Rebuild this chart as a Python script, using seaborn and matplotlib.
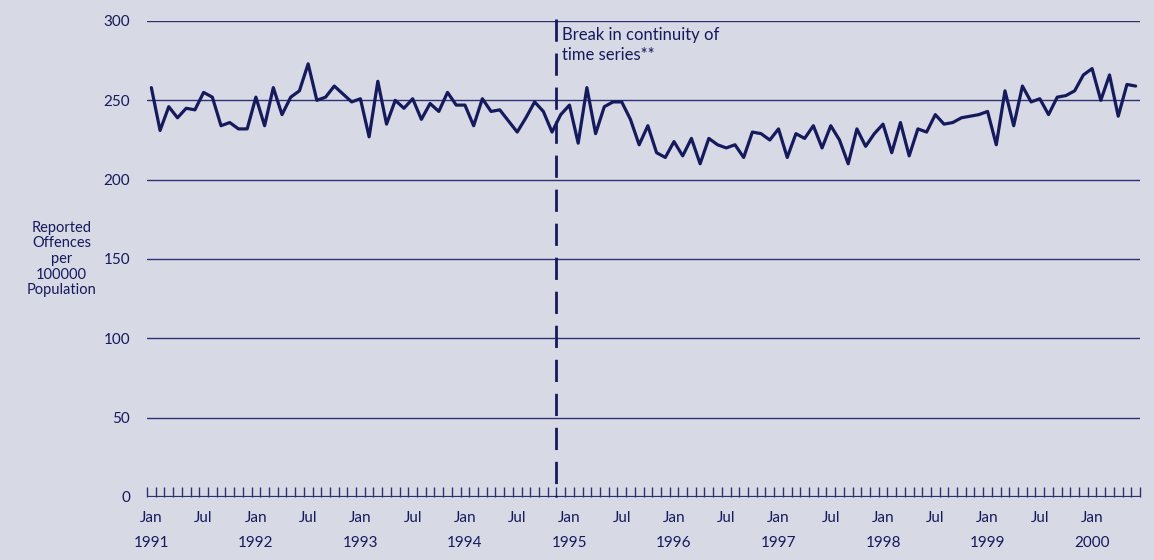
import numpy as np
import pandas as pd
import matplotlib
matplotlib.use("Agg")
import matplotlib.pyplot as plt
import seaborn as sns

# Monthly reported offences per 100000 population, Jan 1991 - Jun 2000
start_year = 1991
offences = [
    258, 231, 246, 239, 245, 244, 255, 252, 234, 236, 232, 232,   # 1991
    252, 234, 258, 241, 252, 256, 273, 250, 252, 259, 254, 249,   # 1992
    251, 227, 262, 235, 250, 245, 251, 238, 248, 243, 255, 247,   # 1993
    247, 234, 251, 243, 244, 237, 230, 239, 249, 243, 230, 241,   # 1994
    247, 223, 258, 229, 246, 249, 249, 238, 222, 234, 217, 214,   # 1995
    224, 215, 226, 210, 226, 222, 220, 222, 214, 230, 229, 225,   # 1996
    232, 214, 229, 226, 234, 220, 234, 225, 210, 232, 221, 229,   # 1997
    235, 217, 236, 215, 232, 230, 241, 235, 236, 239, 240, 241,   # 1998
    243, 222, 256, 234, 259, 249, 251, 241, 252, 253, 256, 266,   # 1999
    270, 250, 266, 240, 260, 259,                                 # 2000
]
break_month = 47  # series break at start of Dec 1994
break_label = "Break in continuity of\ntime series**"
ylabel = "Reported\nOffences\nper\n100000\nPopulation"
yticks = [0, 50, 100, 150, 200, 250, 300]

n = len(offences)
df = pd.DataFrame({"month": np.arange(n) + 0.5, "value": offences})

bg = "#d7d9e5"
navy = "#151a5c"
grid_col = "#2c3170"

sns.set_theme(style="white")
plt.rcParams["font.family"] = ["Lato", "DejaVu Sans"]
plt.rcParams["lines.scale_dashes"] = False

fig, ax = plt.subplots(figsize=(11.54, 5.6), dpi=100)
fig.patch.set_facecolor(bg)
ax.set_facecolor(bg)
fig.subplots_adjust(left=147 / 1154, right=1140 / 1154, top=1 - 21 / 560, bottom=1 - 497 / 560)

# gridlines + baseline
for y in yticks[1:]:
    ax.axhline(y, color=grid_col, lw=1.0, zorder=1)
ax.axhline(0, color=grid_col, lw=1.6, zorder=1)

sns.lineplot(data=df, x="month", y="value", color=navy, lw=2.3, ax=ax, zorder=3)

# break in series
ax.plot([break_month, break_month], [301, 0], color=navy, lw=2.0,
        dashes=(16, 8.5), clip_on=False, zorder=4)
ax.text(break_month + 0.6, 296, break_label, color=navy, fontsize=12,
        ha="left", va="top", linespacing=1.25)

ax.set_xlim(0, n)
ax.set_ylim(0, 300)
ax.set_yticks(yticks)
ax.set_yticklabels([str(v) for v in yticks], fontsize=11, color=navy)

# month boundary ticks and Jan/Jul labels
ax.set_xticks(np.arange(0, n + 1), minor=True)
label_pos = [i + 0.5 for i in range(0, n, 6)]
label_txt = [f"Jan\n{start_year + i // 12}" if i % 12 == 0 else "Jul" for i in range(0, n, 6)]
ax.set_xticks(label_pos)
ax.set_xticklabels(label_txt, fontsize=11, color=navy, linespacing=2.0, va="top")
ax.tick_params(axis="x", which="minor", direction="in", length=7, width=1, color=grid_col, bottom=True)
ax.tick_params(axis="x", which="major", length=0, pad=10)
ax.tick_params(axis="y", length=0, pad=12)

ax.set_xlabel("")
ax.set_ylabel(ylabel, rotation=0, fontsize=10.5, color=navy, ha="center", va="center", linespacing=1.15)
ax.yaxis.set_label_coords(-0.086, 0.5)

for s in ax.spines.values():
    s.set_visible(False)

plt.savefig("out.png", dpi=100, facecolor=bg)
plt.close()
